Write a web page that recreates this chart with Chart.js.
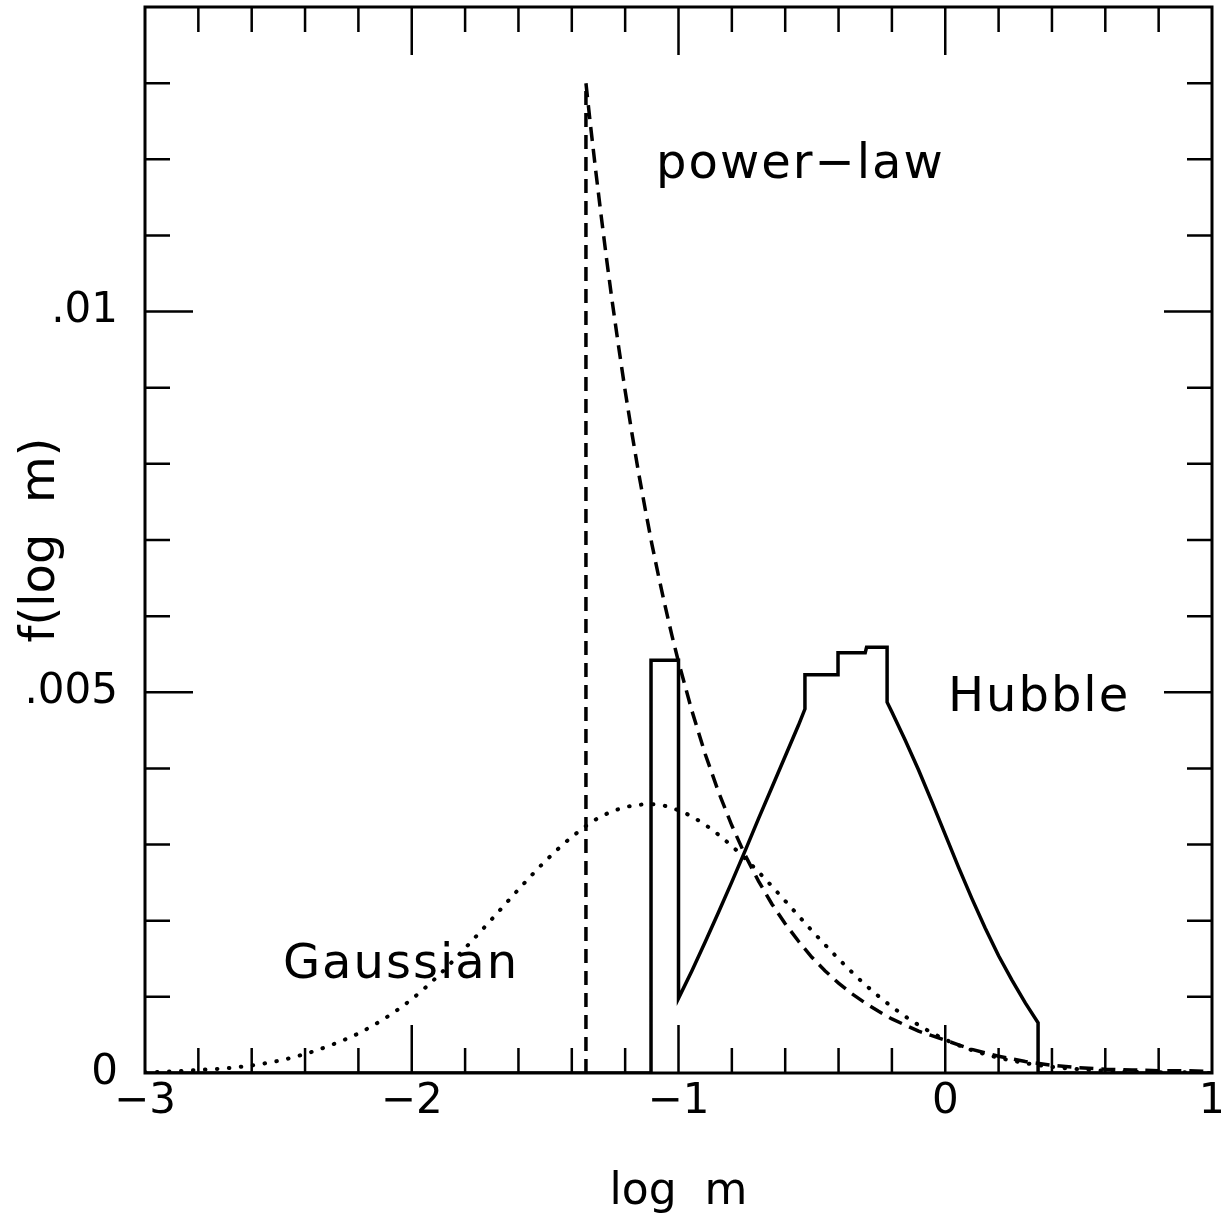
<!DOCTYPE html>
<html>
<head>
<meta charset="utf-8">
<script src="https://cdn.jsdelivr.net/npm/chart.js@4/dist/chart.umd.min.js"></script>
<style>
  html, body { margin: 0; padding: 0; background: #fff; }
  #wrap { width: 1221px; height: 1219px; position: relative; }
</style>
</head>
<body>
<div id="wrap"><canvas id="massChart"></canvas></div>
<script>
// Hubble (solid, stepped histogram-like)
const hubbleX = [-3, -1.103, -1.103, -1.0, -1.0, -0.95, -0.9, -0.85, -0.8, -0.75, -0.7, -0.65, -0.6, -0.55, -0.526,
  -0.526, -0.402, -0.402, -0.30, -0.295, -0.218, -0.218, -0.2, -0.15, -0.1, -0.05, 0, 0.05, 0.1, 0.15, 0.2, 0.25, 0.3, 0.348, 0.348, 1.0];
const hubbleY = [0, 0, 0.00542, 0.00542, 0.00098, 0.00134, 0.00172, 0.00211, 0.00251, 0.00292, 0.00334, 0.00375, 0.00416, 0.00457, 0.00478,
  0.00523, 0.00523, 0.00552, 0.00552, 0.00559, 0.00559, 0.00487, 0.00474, 0.00437, 0.00398, 0.00356, 0.00313, 0.0027, 0.00229, 0.0019, 0.00154, 0.00122, 0.00092, 0.00066, 0, 0];

// power-law (dashed)
const powerX = [-1.347, -1.347, -1.33, -1.31, -1.29, -1.27, -1.25, -1.225, -1.2, -1.175, -1.15, -1.125, -1.1, -1.075, -1.05, -1.025, -1.0,
  -0.95, -0.9, -0.85, -0.8, -0.75, -0.7, -0.65, -0.6, -0.55, -0.5, -0.45, -0.4, -0.35, -0.3, -0.25, -0.2, -0.15, -0.1, -0.05, 0,
  0.1, 0.2, 0.3, 0.4, 0.5, 0.6, 0.7, 0.8, 0.9, 1.0];
const powerY = [0, 0.013, 0.01245, 0.01184, 0.01126, 0.0107, 0.01017, 0.00955, 0.00896, 0.00841, 0.00789, 0.00741, 0.00695, 0.00653, 0.00613, 0.00575, 0.0054,
  0.00476, 0.00419, 0.00369, 0.00325, 0.00286, 0.00252, 0.00222, 0.00196, 0.00173, 0.00152, 0.00134, 0.00118, 0.00104, 0.00092, 0.00081, 0.00071, 0.00063, 0.00055, 0.00049, 0.00043,
  0.00031, 0.00022, 0.00015, 0.0001, 0.00007, 0.00005, 0.00004, 0.00003, 0.00003, 0.00002];

// Gaussian (dotted)
const gaussX = [-3.0, -2.9, -2.8, -2.7, -2.6, -2.5, -2.4, -2.3, -2.2, -2.1, -2.0, -1.9, -1.8, -1.7, -1.6, -1.5, -1.4, -1.3, -1.2, -1.1,
  -1.0, -0.9, -0.8, -0.7, -0.6, -0.5, -0.4, -0.3, -0.2, -0.1, 0.0, 0.1, 0.2, 0.3, 0.4, 0.5, 0.6, 0.7, 0.8, 0.9, 1.0];
const gaussY = [0.00001, 0.00002, 0.00004, 0.00006, 0.0001, 0.00016, 0.00025, 0.00037, 0.00052, 0.00072, 0.00097, 0.00128, 0.00164, 0.00202, 0.00241, 0.00278, 0.0031, 0.00335, 0.00349, 0.00353,
  0.00345, 0.00326, 0.00298, 0.00264, 0.00226, 0.00187, 0.0015, 0.00116, 0.00087, 0.00063, 0.00044, 0.0003, 0.0002, 0.00013, 0.00008, 0.00005, 0.00003, 0.00002, 0.00001, 0.00001, 0];

// axis ticks
const xLabelTicks = [-3, -2, -1, 0, 1];
const xMinorTicks = [-2.8, -2.6, -2.4, -2.2, -2, -1.8, -1.6, -1.4, -1.2, -1, -0.8, -0.6, -0.4, -0.2, 0, 0.2, 0.4, 0.6, 0.8];
const yLabelTicks = [0, 0.005, 0.01];
const yLabelText = ['0', '.005', '.01'];
const yMinorTicks = [0.001, 0.002, 0.003, 0.004, 0.005, 0.006, 0.007, 0.008, 0.009, 0.01, 0.011, 0.012, 0.013];

const curveLabels = [
  { text: 'power\u2212law', x: -1.084, y: 0.01175 },
  { text: 'Hubble', x: 0.010, y: 0.00475 },
  { text: 'Gaussian', x: -2.483, y: 0.00125 }
];

const pts = (xs, ys) => xs.map((v, i) => ({ x: v, y: ys[i] }));

const frameTicks = {
  id: 'frameTicks',
  afterDraw(chart) {
    const { ctx, chartArea: a, scales: { x, y } } = chart;
    ctx.save();
    ctx.strokeStyle = '#000';
    ctx.lineWidth = 2.5;
    ctx.beginPath();
    xMinorTicks.forEach(v => {
      const px = x.getPixelForValue(v);
      const len = xLabelTicks.includes(v) ? 48 : 25;
      ctx.moveTo(px, a.bottom); ctx.lineTo(px, a.bottom - len);
      ctx.moveTo(px, a.top); ctx.lineTo(px, a.top + len);
    });
    yMinorTicks.forEach(v => {
      const py = y.getPixelForValue(v);
      const len = yLabelTicks.some(t => Math.abs(t - v) < 1e-9) ? 48 : 25;
      ctx.moveTo(a.left, py); ctx.lineTo(a.left + len, py);
      ctx.moveTo(a.right, py); ctx.lineTo(a.right - len, py);
    });
    ctx.stroke();
    ctx.lineWidth = 3;
    ctx.strokeRect(a.left, a.top, a.right - a.left, a.bottom - a.top);
    ctx.fillStyle = '#000';
    ctx.font = '48px "DejaVu Sans"';
    ctx.letterSpacing = '2px';
    ctx.textAlign = 'left';
    ctx.textBaseline = 'alphabetic';
    curveLabels.forEach(l => ctx.fillText(l.text, x.getPixelForValue(l.x), y.getPixelForValue(l.y)));
    ctx.restore();
  }
};

new Chart(document.getElementById('massChart'), {
  type: 'scatter',
  data: {
    datasets: [
      { label: 'Hubble', data: pts(hubbleX, hubbleY), showLine: true, borderColor: '#000', borderWidth: 3.5, pointRadius: 0, tension: 0 },
      { label: 'power-law', data: pts(powerX, powerY), showLine: true, borderColor: '#000', borderWidth: 3.5, borderDash: [14, 8], pointRadius: 0, tension: 0 },
      { label: 'Gaussian', data: pts(gaussX, gaussY), showLine: true, borderColor: '#000', borderWidth: 4, borderDash: [0.5, 11.5], borderCapStyle: 'round', pointRadius: 0, cubicInterpolationMode: 'monotone' }
    ]
  },
  options: {
    responsive: true,
    maintainAspectRatio: false,
    animation: false,
    layout: { padding: { top: 7, right: 9, left: 0, bottom: 0 } },
    plugins: { legend: { display: false }, tooltip: { enabled: false } },
    scales: {
      x: {
        type: 'linear', min: -3, max: 1,
        grid: { display: false, drawTicks: false },
        border: { display: false },
        afterBuildTicks: s => { s.ticks = xLabelTicks.map(v => ({ value: v })); },
        afterFit: s => { s.height = 146; s.paddingLeft = 0; s.paddingRight = 0; },
        ticks: {
          color: '#000', padding: 4, maxRotation: 0, autoSkip: false,
          font: { family: 'DejaVu Sans', size: 42 },
          callback: v => (v < 0 ? '\u2212' + Math.abs(v) : String(v))
        },
        title: { display: true, text: 'log  m', color: '#000', font: { family: 'DejaVu Sans', size: 44, lineHeight: 1 }, padding: { top: 0, bottom: 4 } }
      },
      y: {
        type: 'linear', min: 0, max: 0.014,
        grid: { display: false, drawTicks: false },
        border: { display: false },
        afterBuildTicks: s => { s.ticks = yLabelTicks.map(v => ({ value: v })); },
        afterFit: s => { s.width = 145; s.paddingTop = 0; s.paddingBottom = 0; },
        ticks: {
          color: '#000', padding: 27, autoSkip: false,
          font: { family: 'DejaVu Sans', size: 42 },
          callback: (v, i) => yLabelText[i]
        },
        title: { display: true, text: 'f(log  m)', color: '#000', font: { family: 'DejaVu Sans', size: 48, lineHeight: 1 }, padding: { top: 18, bottom: 0 } }
      }
    }
  },
  plugins: [frameTicks]
});
</script>
</body>
</html>
